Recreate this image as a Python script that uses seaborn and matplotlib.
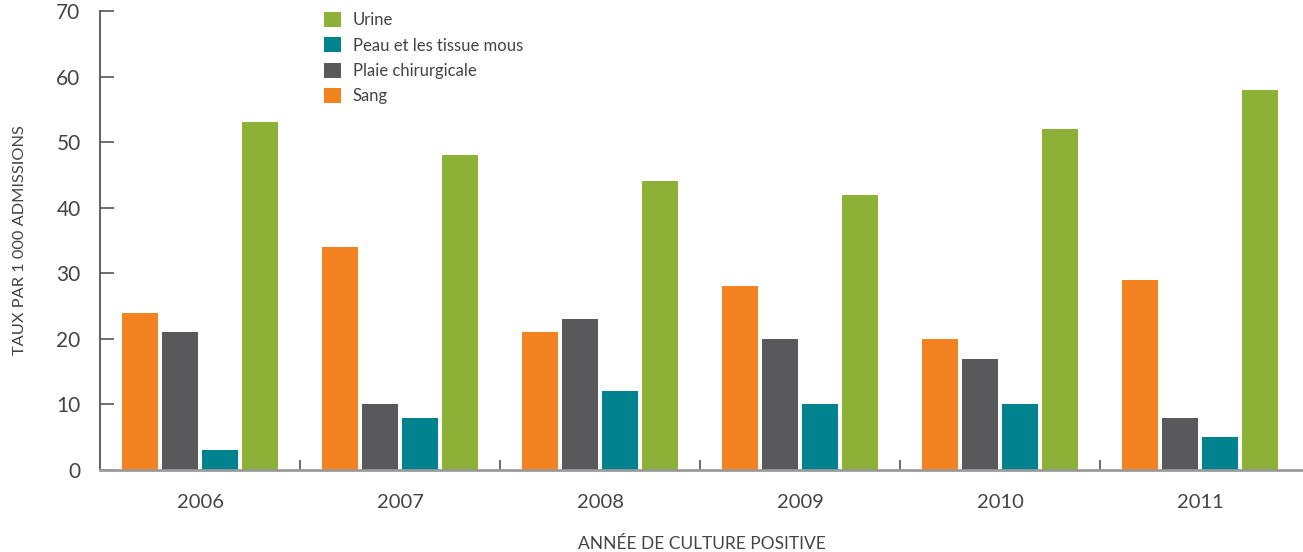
import matplotlib
matplotlib.use("Agg")
import matplotlib.pyplot as plt
from matplotlib.patches import Patch
from matplotlib.ticker import FixedLocator
import seaborn as sns
import pandas as pd

# Rates per 1 000 admissions by year and culture site
years = ["2006", "2007", "2008", "2009", "2010", "2011"]
sang = [24, 34, 21, 28, 20, 29]
plaie = [21, 10, 23, 20, 17, 8]
peau = [3, 8, 12, 10, 10, 5]
urine = [53, 48, 44, 42, 52, 58]

series_names = ["Sang", "Plaie chirurgicale", "Peau et les tissue mous", "Urine"]
series_values = [sang, plaie, peau, urine]
colors = ["#F38321", "#59595B", "#00838F", "#8DB037"]

rows = []
for name, vals in zip(series_names, series_values):
    for yr, v in zip(years, vals):
        rows.append({"year": yr, "site": name, "rate": v})
df = pd.DataFrame(rows)

sns.set_theme(style="white")
plt.rcParams["font.family"] = ["Lato", "DejaVu Sans"]
text_color = "#444444"

fig = plt.figure(figsize=(13.03, 5.52), dpi=100)
ax = fig.add_axes([100 / 1303, 82 / 552, 1203 / 1303, 459 / 552])

sns.barplot(data=df, x="year", y="rate", hue="site", order=years,
            hue_order=series_names, palette=colors, width=0.8, gap=0.08,
            saturation=1, linewidth=0, ax=ax, legend=False)

ax.set_ylim(0, 70)
ax.set_xlim(-0.5, 5.515)
ax.set_yticks(range(0, 71, 10))
ax.tick_params(axis="y", direction="in", length=10, width=1.2, color="#555555",
               labelsize=15, labelcolor=text_color, pad=14, left=True)
ax.tick_params(axis="x", which="major", length=0, labelsize=14.5,
               labelcolor=text_color, pad=17.5)
ax.xaxis.set_minor_locator(FixedLocator([0.5, 1.5, 2.5, 3.5, 4.5]))
ax.tick_params(axis="x", which="minor", direction="in", length=7, width=1.2,
               color="#555555", bottom=True)

for side in ("top", "right"):
    ax.spines[side].set_visible(False)
ax.spines["left"].set_color("#555555")
ax.spines["left"].set_linewidth(1.3)
ax.spines["bottom"].set_color("#9A9A9A")
ax.spines["bottom"].set_linewidth(2)

ax.set_xlabel("ANNÉE DE CULTURE POSITIVE", fontsize=12.5, color=text_color)
ax.xaxis.set_label_coords(0.5, -0.144)
ax.set_ylabel("TAUX PAR 1 000 ADMISSIONS", fontsize=11.8, color=text_color)
ax.yaxis.set_label_coords(-0.0606, 0.5)

handles = [Patch(facecolor=c, edgecolor="none", label=n)
           for n, c in zip(series_names, colors)][::-1]
ax.legend(handles=handles, loc="upper left", bbox_to_anchor=(314 / 1303, 550 / 552),
          bbox_transform=fig.transFigure, frameon=False, fontsize=12,
          handlelength=1.0, handleheight=1.0, handletextpad=0.72,
          labelspacing=0.55, labelcolor=text_color, borderaxespad=0.2)

fig.savefig("out.png", dpi=100)
